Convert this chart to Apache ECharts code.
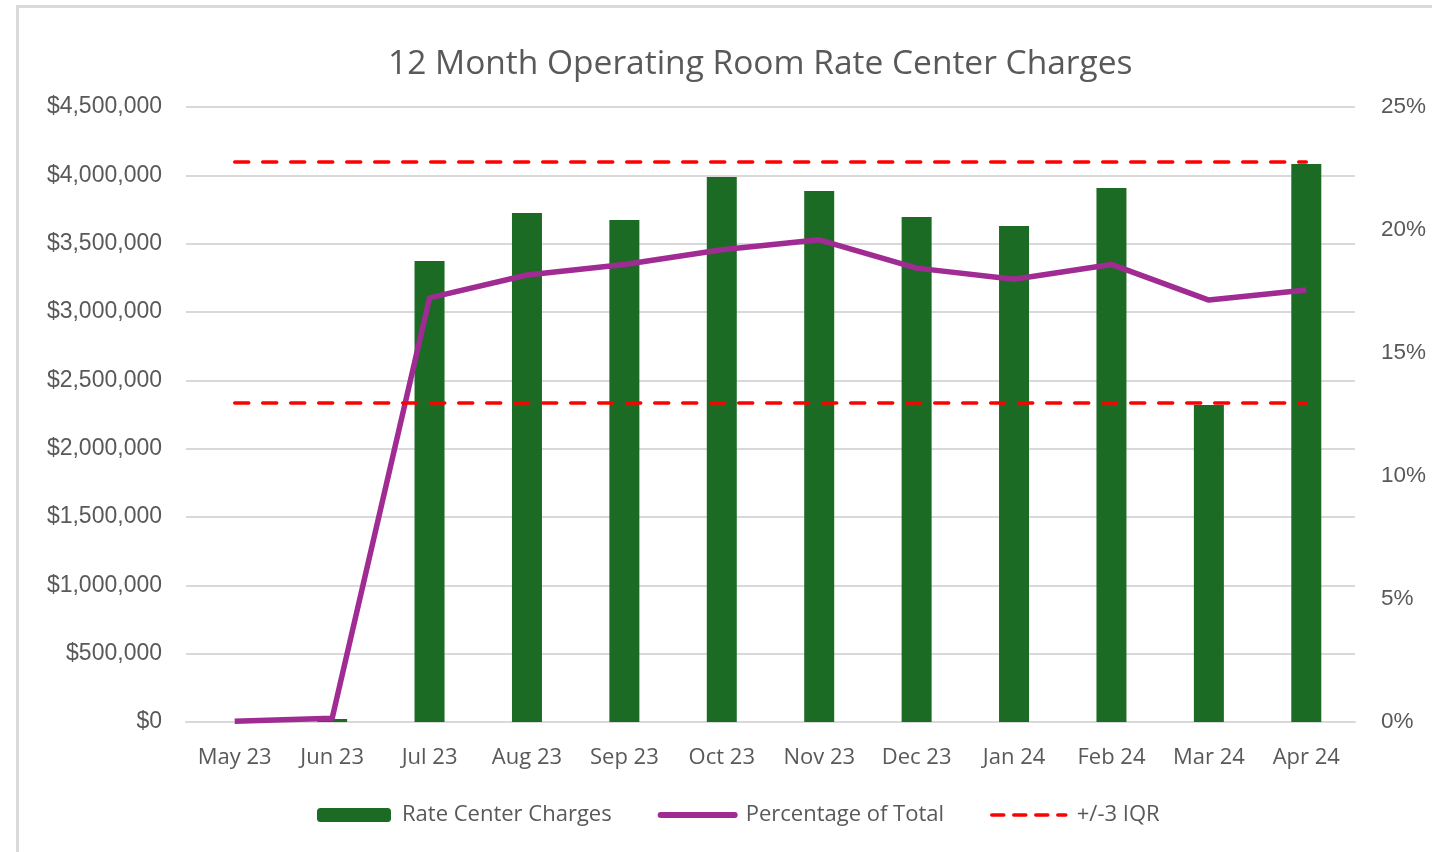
<!DOCTYPE html>
<html>
<head>
<meta charset="utf-8">
<script src="https://cdn.jsdelivr.net/npm/echarts@6/dist/echarts.min.js"></script>
<style>
html,body{margin:0;padding:0;background:#fff;}
#frame{position:absolute;left:16px;top:5px;width:1416px;height:847px;border-top:3px solid #d9d9d9;border-left:3px solid #d9d9d9;box-sizing:border-box;}
#chart{position:absolute;left:0;top:0;width:1432px;height:852px;}
</style>
</head>
<body>
<div id="frame"></div>
<div id="chart"></div>
<script>
const categories = ['May 23','Jun 23','Jul 23','Aug 23','Sep 23','Oct 23','Nov 23','Dec 23','Jan 24','Feb 24','Mar 24','Apr 24'];
const charges = [0, 22000, 3373000, 3724000, 3673000, 3988000, 3885000, 3695000, 3629000, 3907000, 2320000, 4083000];
const percentOfTotal = [0.03, 0.15, 17.24, 18.17, 18.6, 19.2, 19.6, 18.45, 18.0, 18.6, 17.15, 17.56];
const upperIQR = [4098000, 4098000, 4098000, 4098000, 4098000, 4098000, 4098000, 4098000, 4098000, 4098000, 4098000, 4098000];
const lowerIQR = [2334000, 2334000, 2334000, 2334000, 2334000, 2334000, 2334000, 2334000, 2334000, 2334000, 2334000, 2334000];
const leftTicks = { min: 0, max: 4500000, interval: 500000 };
const rightTicks = { min: 0, max: 25, interval: 5 };

const chart = echarts.init(document.getElementById('chart'));
const gray = '#595959';
const fontMain = '"Open Sans", Lato, sans-serif';
const fontNum = '"Liberation Sans", Arial, sans-serif';
chart.setOption({
  animation: false,
  title: {
    text: '12 Month Operating Room Rate Center Charges',
    left: 383,
    top: 42,
    textStyle: { fontFamily: fontMain, fontSize: 33.5, fontWeight: 'normal', color: gray }
  },
  grid: { left: 186, right: 77, top: 107, bottom: 130 },
  legend: {
    bottom: 21,
    left: 312,
    itemWidth: 74,
    itemHeight: 14,
    itemGap: 46,
    textStyle: { fontFamily: fontMain, fontSize: 22, color: gray, padding: [0, 0, 0, 6] },
    data: [
      { name: 'Rate Center Charges' },
      { name: 'Percentage of Total', itemStyle: { opacity: 0 }, lineStyle: { width: 6, color: '#A02B93', cap: 'round' } },
      { name: '+/-3 IQR', itemStyle: { opacity: 0 }, lineStyle: { width: 3.5, color: '#FF0000', type: [12, 10], cap: 'round' } }
    ]
  },
  xAxis: {
    type: 'category',
    data: categories,
    axisLine: { lineStyle: { color: '#d9d9d9', width: 2 } },
    axisTick: { show: false },
    axisLabel: { fontFamily: fontMain, fontSize: 22, color: gray, margin: 25 }
  },
  yAxis: [
    {
      type: 'value',
      min: leftTicks.min, max: leftTicks.max, interval: leftTicks.interval,
      axisLine: { show: false },
      axisTick: { show: false },
      splitLine: { lineStyle: { color: '#d9d9d9', width: 2 } },
      axisLabel: {
        fontFamily: fontNum, fontSize: 23, color: gray, margin: 24,
        formatter: v => '$' + v.toLocaleString('en-US')
      }
    },
    {
      type: 'value',
      min: rightTicks.min, max: rightTicks.max, interval: rightTicks.interval,
      axisLine: { show: false },
      axisTick: { show: false },
      splitLine: { show: false },
      axisLabel: {
        fontFamily: fontNum, fontSize: 22.5, color: gray, margin: 26,
        formatter: '{value}%'
      }
    }
  ],
  series: [
    {
      name: 'Rate Center Charges',
      type: 'bar',
      data: charges,
      barWidth: 30,
      itemStyle: { color: '#1B6B24' },
      z: 2
    },
    {
      name: 'Percentage of Total',
      type: 'line',
      yAxisIndex: 1,
      data: percentOfTotal,
      symbol: 'none',
      lineStyle: { color: '#A02B93', width: 5.5, join: 'round' },
      itemStyle: { color: '#A02B93' },
      z: 3
    },
    {
      name: '+/-3 IQR',
      type: 'line',
      data: upperIQR,
      symbol: 'none',
      lineStyle: { color: '#FF0000', width: 3.5, type: [14, 14], cap: 'round' },
      itemStyle: { color: '#FF0000' },
      z: 4
    },
    {
      name: '+/-3 IQR',
      type: 'line',
      data: lowerIQR,
      symbol: 'none',
      lineStyle: { color: '#FF0000', width: 3.5, type: [14, 14], cap: 'round' },
      itemStyle: { color: '#FF0000' },
      z: 4
    }
  ]
});
</script>
</body>
</html>
